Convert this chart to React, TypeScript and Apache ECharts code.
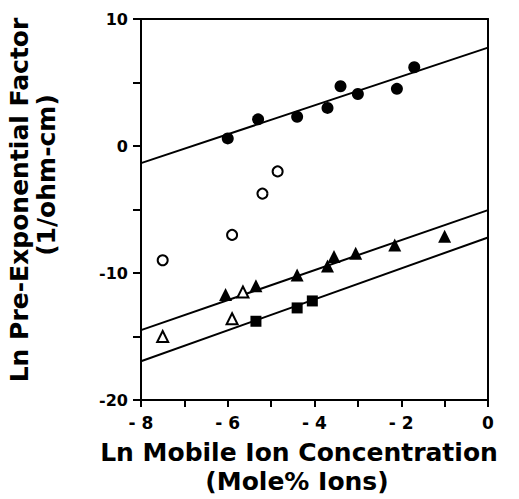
import React, { useEffect, useRef } from "react";
import * as echarts from "echarts";

const filledCircles: number[][] = [
  [-6.0, 0.6], [-5.3, 2.1], [-4.4, 2.3], [-3.7, 3.0], [-3.4, 4.7], [-3.0, 4.1], [-2.1, 4.5], [-1.7, 6.2],
];
const openCircles: number[][] = [
  [-7.5, -9.0], [-5.9, -7.0], [-5.2, -3.75], [-4.85, -2.0],
];
const filledTriangles: number[][] = [
  [-6.05, -11.7], [-5.35, -11.0], [-4.4, -10.15], [-3.7, -9.45], [-3.55, -8.7], [-3.05, -8.45], [-2.15, -7.8], [-1.0, -7.1],
];
const openTriangles: number[][] = [
  [-7.5, -15.0], [-5.9, -13.6], [-5.65, -11.5],
];
const filledSquares: number[][] = [
  [-5.35, -13.8], [-4.4, -12.75], [-4.05, -12.2],
];
const fitLine1: number[][] = [[-8, -1.35], [0, 7.75]];
const fitLine2: number[][] = [[-8, -14.5], [0, -5.05]];
const fitLine3: number[][] = [[-8, -16.95], [0, -7.2]];

const xTitle = ["Ln Mobile Ion Concentration", "(Mole% Ions)"];
const yTitle = ["Ln Pre-Exponential Factor", "(1/ohm-cm)"];

const FONT = "DejaVu Sans";

export default function App() {
  const ref = useRef<HTMLDivElement>(null);
  useEffect(() => {
    if (!ref.current) return;
    const chart = echarts.init(ref.current, null, { renderer: "svg" });
    const lineSeries = (d: number[][]) => ({
      type: "line",
      data: d,
      symbol: "none",
      lineStyle: { color: "#000", width: 2 },
      silent: true,
      z: 1,
    });
    const titleStyle = (text: string) => ({
      text,
      fontFamily: FONT,
      fontWeight: "bold",
      fontSize: 25,
      fill: "#000",
      textAlign: "center",
      textVerticalAlign: "middle",
    });
    const frameAxis = {
      min: 0,
      max: 1,
      axisLine: { show: true, onZero: false, lineStyle: { color: "#000", width: 2 } },
      axisTick: { show: false },
      axisLabel: { show: false },
      splitLine: { show: false },
    };
    chart.setOption({
      animation: false,
      backgroundColor: "#fff",
      grid: {
        left: 141,
        right: 31,
        top: 19,
        bottom: 99,
        containLabel: false,
        outerBoundsMode: "none",
      },
      xAxis: [
        {
          type: "value",
          position: "bottom",
          min: -8,
          max: 0,
          interval: 1,
          splitLine: { show: false },
          axisLine: { onZero: false, lineStyle: { color: "#000", width: 2 } },
          axisTick: { inside: false, length: 7, lineStyle: { color: "#000", width: 2 } },
          axisLabel: {
            margin: 14,
            color: "#000",
            fontFamily: FONT,
            fontWeight: "bold",
            fontSize: 17,
            formatter: (v: number) =>
              Math.round(v) % 2 === 0 ? (v < 0 ? "- " + String(-v) : String(v)) : "",
          },
        },
        { type: "value", position: "top", ...frameAxis },
      ],
      yAxis: [
        {
          type: "value",
          position: "left",
          min: -20,
          max: 10,
          interval: 5,
          splitLine: { show: false },
          axisLine: { onZero: false, lineStyle: { color: "#000", width: 2 } },
          axisTick: { inside: false, length: 8, lineStyle: { color: "#000", width: 2 } },
          axisLabel: {
            margin: 13,
            color: "#000",
            fontFamily: FONT,
            fontWeight: "bold",
            fontSize: 16,
            formatter: (v: number) => (Math.round(v) % 10 === 0 ? String(v) : ""),
          },
        },
        { type: "value", position: "right", ...frameAxis },
      ],
      graphic: [
        { type: "text", x: 299, y: 452, style: titleStyle(xTitle[0]) },
        { type: "text", x: 297, y: 481, style: titleStyle(xTitle[1]) },
        { type: "text", x: 19, y: 200, rotation: Math.PI / 2, style: titleStyle(yTitle[0]) },
        { type: "text", x: 46, y: 175, rotation: Math.PI / 2, style: titleStyle(yTitle[1]) },
      ],
      series: [
        lineSeries(fitLine1),
        lineSeries(fitLine2),
        lineSeries(fitLine3),
        {
          type: "scatter",
          data: filledCircles,
          symbol: "circle",
          symbolSize: 12,
          itemStyle: { color: "#000", opacity: 1 },
          z: 3,
        },
        {
          type: "scatter",
          data: openCircles,
          symbol: "circle",
          symbolSize: 10,
          itemStyle: { color: "#fff", borderColor: "#000", borderWidth: 2, opacity: 1 },
          z: 3,
        },
        {
          type: "scatter",
          data: filledTriangles,
          symbol: "triangle",
          symbolSize: 13,
          itemStyle: { color: "#000", opacity: 1 },
          z: 3,
        },
        {
          type: "scatter",
          data: openTriangles,
          symbol: "triangle",
          symbolSize: 11,
          itemStyle: { color: "#fff", borderColor: "#000", borderWidth: 2, opacity: 1 },
          z: 3,
        },
        {
          type: "scatter",
          data: filledSquares,
          symbol: "rect",
          symbolSize: 11,
          itemStyle: { color: "#000", opacity: 1 },
          z: 3,
        },
      ],
    });
    return () => chart.dispose();
  }, []);
  return (
    <div
      ref={ref}
      style={{ position: "fixed", left: 0, top: 0, width: 519, height: 499 }}
    />
  );
}
